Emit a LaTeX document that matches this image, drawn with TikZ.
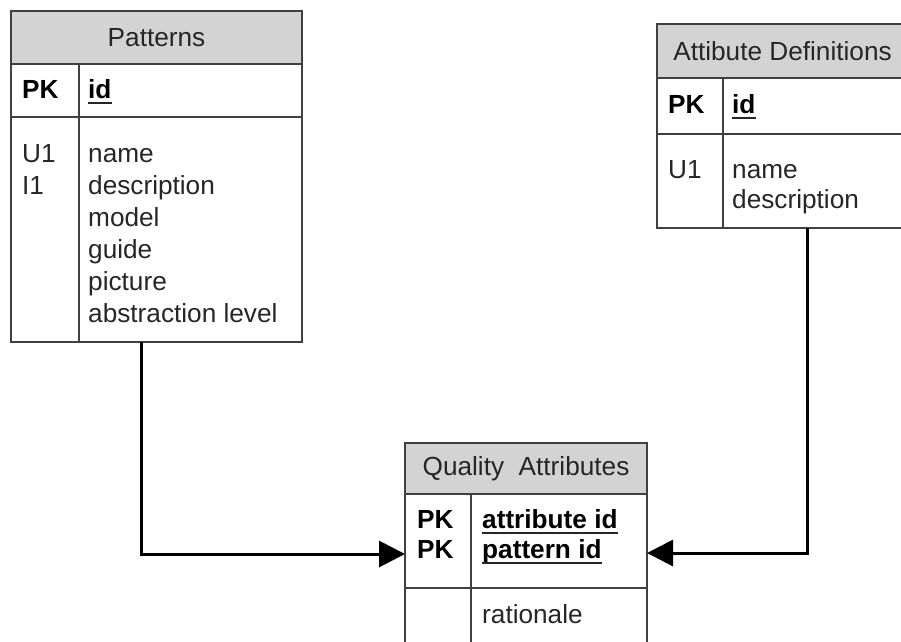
\documentclass[tikz,border=0pt]{standalone}
\usepackage{fontspec}
\setmainfont{Liberation Sans}
\usetikzlibrary{arrows.meta}

\definecolor{headgray}{HTML}{D3D3D3}
\definecolor{framegray}{HTML}{404040}
\definecolor{ink}{HTML}{262626}

\tikzset{
  frame/.style={draw=framegray, line width=2pt, inner sep=0pt, outer sep=0pt, anchor=north west},
  tblhead/.style={frame, fill=headgray, text=ink, font=\fontsize{26.2}{30}\selectfont},
  cell/.style={frame, fill=white},
  txt/.style={inner sep=0pt, anchor=base west, text=ink, font=\fontsize{26.2}{30}\selectfont},
  keytxt/.style={txt, text=black, font=\fontsize{26.2}{30}\selectfont\bfseries},
  uline/.style={line width=2pt, draw=ink},
  divider/.style={draw=framegray, line width=2pt},
  conn/.style={draw=black, line width=3pt, -{Triangle[length=26pt,width=26pt]}}
}

\begin{document}
\begin{tikzpicture}[x=1pt,y=-1pt]
\useasboundingbox (0,0) rectangle (901,641);
\begin{scope}
\clip (0,0) rectangle (901,641);

% ---------- Patterns ----------
\node[tblhead, minimum width=291pt, minimum height=53pt] (pat-head) at (11,11) {Patterns};
\node[cell, minimum width=291pt, minimum height=53pt] (pat-key) at (11,64) {};
\node[cell, minimum width=291pt, minimum height=225pt] (pat-body) at (11,117) {};
\draw[divider] ([xshift=68pt]pat-key.north west) -- ([xshift=68pt]pat-body.south west);
\node[keytxt] (pat-pk) at (22,98) {PK};
\node[keytxt] (pat-id) at (88,98) {id};
\draw[uline] ([yshift=-5pt]pat-id.base west) -- ([yshift=-5pt]pat-id.base east);
\node[txt] (pat-u1) at (22,162) {U1};
\node[txt] (pat-i1) at (22,194) {I1};
\node[txt] (pat-f1) at (88,162) {name};
\node[txt] (pat-f2) at (88,194) {description};
\node[txt] (pat-f3) at (88,226) {model};
\node[txt] (pat-f4) at (88,258) {guide};
\node[txt] (pat-f5) at (88,290) {picture};
\node[txt] (pat-f6) at (88,322) {abstraction level};

% ---------- Attibute Definitions ----------
\node[tblhead, minimum width=251pt, minimum height=54pt] (adef-head) at (657,24) {Attibute Definitions};
\node[cell, minimum width=251pt, minimum height=56pt] (adef-key) at (657,78) {};
\node[cell, minimum width=251pt, minimum height=94pt] (adef-body) at (657,134) {};
\draw[divider] ([xshift=66pt]adef-key.north west) -- ([xshift=66pt]adef-body.south west);
\node[keytxt] (adef-pk) at (668,113) {PK};
\node[keytxt] (adef-id) at (732,113) {id};
\draw[uline] ([yshift=-5pt]adef-id.base west) -- ([yshift=-5pt]adef-id.base east);
\node[txt] (adef-u1) at (668,178) {U1};
\node[txt] (adef-f1) at (732,178) {name};
\node[txt] (adef-f2) at (732,208) {description};

% ---------- Quality Attributes ----------
\node[tblhead, minimum width=242pt, minimum height=51pt] (qa-head) at (405,443) {Quality\ \ Attributes};
\node[cell, minimum width=242pt, minimum height=94pt] (qa-key) at (405,494) {};
\node[cell, minimum width=242pt, minimum height=80pt] (qa-body) at (405,588) {};
\draw[divider] ([xshift=66pt]qa-key.north west) -- ([xshift=66pt]qa-body.south west);
\node[keytxt] (qa-pk1) at (417,528) {PK};
\node[keytxt] (qa-pk2) at (417,558) {PK};
\node[keytxt] (qa-k1) at (482,528) {attribute id};
\node[keytxt] (qa-k2) at (482,558) {pattern id};
\draw[uline] ([yshift=-5pt]qa-k1.base west) -- ([yshift=-5pt]qa-k1.base east);
\draw[uline] ([yshift=-5pt]qa-k2.base west) -- ([yshift=-5pt]qa-k2.base east);
\node[txt] (qa-f1) at (482,623) {rationale};

% ---------- Relationships ----------
\coordinate (qa-in-l) at ([yshift=-13pt]qa-key.west);
\coordinate (qa-in-r) at ([yshift=-12pt]qa-key.east);
\draw[conn] ([xshift=-15.5pt]pat-body.south) |- (qa-in-l);
\draw[conn] ([xshift=24.5pt]adef-body.south) |- (qa-in-r);

\end{scope}
\end{tikzpicture}
\end{document}
